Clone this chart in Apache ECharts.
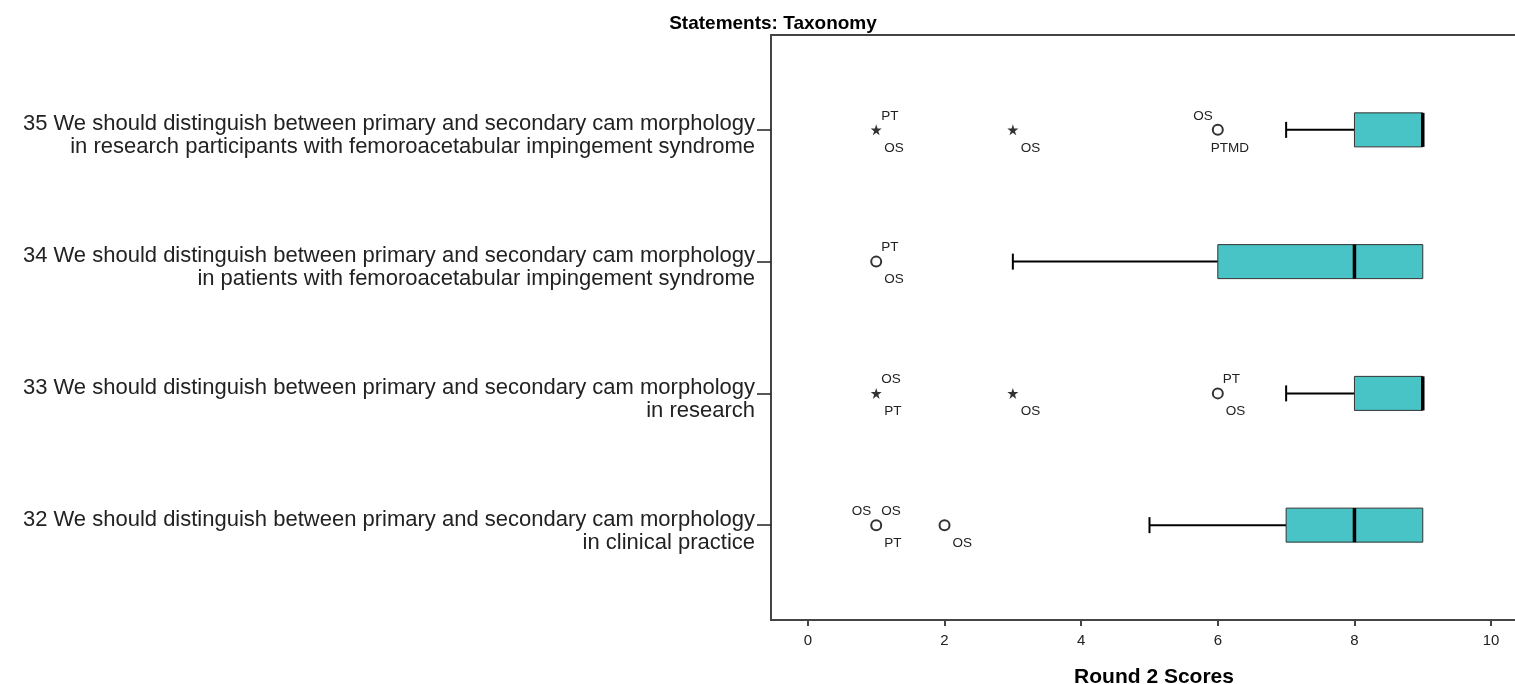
<!DOCTYPE html>
<html><head><meta charset="utf-8">
<script src="https://cdn.jsdelivr.net/npm/echarts@6/dist/echarts.min.js"></script>
<style>html,body{margin:0;padding:0;background:#fff}#c{width:1515px;height:684px}</style>
</head><body><div id="c"></div>
<script>
// Categories bottom (position 1) to top (position 4)
const categories = [
  "32 We should distinguish between primary and secondary cam morphology\nin clinical practice",
  "33 We should distinguish between primary and secondary cam morphology\nin research",
  "34 We should distinguish between primary and secondary cam morphology\nin patients with femoroacetabular impingement syndrome",
  "35 We should distinguish between primary and secondary cam morphology\nin research participants with femoroacetabular impingement syndrome"
];
const whiskerLow = [5, 7, 3, 7];
const q1 = [7, 8, 6, 8];
const median = [8, 9, 8, 9];
const q3 = [9, 9, 9, 9];
const whiskerHigh = [9, 9, 9, 9];
const xTicks = [0, 2, 4, 6, 8, 10];
const yTicks = [1, 2, 3, 4];
// outliers: [score, category index, kind]
const outliers = [
  [1, 0, "circle"], [2, 0, "circle"],
  [1, 1, "star"], [3, 1, "star"], [6, 1, "circle"],
  [1, 2, "circle"],
  [1, 3, "star"], [3, 3, "star"], [6, 3, "circle"]
];
// outlier case labels: [score, category index, text, placement]
const outlierLabels = [
  [1, 0, "OS", "ul"], [1, 0, "OS", "ur"], [1, 0, "PT", "lr"], [2, 0, "OS", "lr"],
  [1, 1, "OS", "ur"], [1, 1, "PT", "lr"], [3, 1, "OS", "lr"], [6, 1, "PT", "ur"], [6, 1, "OS", "lr"],
  [1, 2, "PT", "ur"], [1, 2, "OS", "lr"],
  [1, 3, "PT", "ur"], [1, 3, "OS", "lr"], [3, 3, "OS", "lr"], [6, 3, "OS", "ul"], [6, 3, "PTMD", "lc"]
];

const FONT = "Arial, 'Liberation Sans', sans-serif";
const starPath = 'path://M50,0 L61.8,36.2 L100,36.2 L69.1,58.6 L80.9,95.1 L50,72.7 L19.1,95.1 L30.9,58.6 L0,36.2 L38.2,36.2 Z';
const placeOffsets = { ur: [5, -14, 'left'], lr: [8, 18, 'left'], ul: [-5, -14, 'right'], lc: [-7, 18, 'left'] };
const labelDrop = 0.045; // small downward nudge of the two-line category labels

const boxData = categories.map((c, i) => [i + 1, whiskerLow[i], q1[i], median[i], q3[i], whiskerHigh[i]]);

const chart = echarts.init(document.getElementById('c'), null, { renderer: 'canvas' });
chart.setOption({
  animation: false,
  title: [
    { text: 'Statements: Taxonomy', left: 768, top: 9, textAlign: 'center',
      textStyle: { fontFamily: FONT, fontSize: 19, fontWeight: 'bold', color: '#000' } },
    { text: 'Round 2 Scores', left: 1149, top: 662, textAlign: 'center',
      textStyle: { fontFamily: FONT, fontSize: 21, fontWeight: 'bold', color: '#000' } }
  ],
  grid: { left: 771, right: 0, top: 35, bottom: 64, containLabel: false },
  xAxis: [
    { type: 'value', position: 'bottom', min: -0.54, max: 10.35,
      axisLine: { show: true, onZero: false, lineStyle: { color: '#444', width: 2 } },
      axisTick: { show: true, customValues: xTicks, length: 6, lineStyle: { color: '#444', width: 2 } },
      axisLabel: { customValues: xTicks, margin: 13, fontFamily: FONT, fontSize: 15, color: '#222' },
      splitLine: { show: false } },
    { type: 'value', position: 'top', min: -0.54, max: 10.35,
      axisLine: { show: true, onZero: false, lineStyle: { color: '#444', width: 2 } },
      axisTick: { show: false }, axisLabel: { show: false }, splitLine: { show: false } }
  ],
  yAxis: {
    type: 'value', min: 0.28, max: 4.72, position: 'left',
    axisLine: { show: true, onZero: false, lineStyle: { color: '#444', width: 2 } },
    axisTick: { show: true, customValues: yTicks, length: 14, lineStyle: { color: '#222', width: 1.5 } },
    axisLabel: { customValues: yTicks.map(v => v - labelDrop), margin: 16, align: 'right', fontFamily: FONT, fontSize: 22,
      lineHeight: 23, color: '#222',
      formatter: v => categories[Math.round(v) - 1] || '' },
    splitLine: { show: false }
  },
  series: [
    {
      type: 'custom', xAxisIndex: 0, yAxisIndex: 0, data: boxData,
      encode: { x: [1, 2, 3, 4, 5], y: 0 },
      renderItem: function (params, api) {
        const y = api.value(0);
        const pLow = api.coord([api.value(1), y]);
        const pQ1 = api.coord([api.value(2), y]);
        const pMed = api.coord([api.value(3), y]);
        const pQ3 = api.coord([api.value(4), y]);
        const pHigh = api.coord([api.value(5), y]);
        const h = 34, cap = 16;
        const cy = pQ1[1];
        const children = [];
        if (pLow[0] < pQ1[0]) {
          children.push({ type: 'line', shape: { x1: pLow[0], y1: cy, x2: pQ1[0], y2: cy }, style: { stroke: '#000', lineWidth: 2 } });
          children.push({ type: 'line', shape: { x1: pLow[0], y1: cy - cap / 2, x2: pLow[0], y2: cy + cap / 2 }, style: { stroke: '#000', lineWidth: 2 } });
        }
        if (pHigh[0] > pQ3[0]) {
          children.push({ type: 'line', shape: { x1: pQ3[0], y1: cy, x2: pHigh[0], y2: cy }, style: { stroke: '#000', lineWidth: 2 } });
          children.push({ type: 'line', shape: { x1: pHigh[0], y1: cy - cap / 2, x2: pHigh[0], y2: cy + cap / 2 }, style: { stroke: '#000', lineWidth: 2 } });
        }
        children.push({ type: 'rect', shape: { x: pQ1[0], y: cy - h / 2, width: pQ3[0] - pQ1[0], height: h },
          style: { fill: '#48C3C6', stroke: '#333', lineWidth: 1 } });
        children.push({ type: 'line', shape: { x1: pMed[0], y1: cy - h / 2, x2: pMed[0], y2: cy + h / 2 },
          style: { stroke: '#000', lineWidth: 3.5 } });
        return { type: 'group', children: children };
      }
    },
    {
      type: 'scatter', data: outliers.filter(o => o[2] === 'circle').map(o => [o[0], o[1] + 1]),
      symbol: 'circle', symbolSize: 10,
      itemStyle: { color: '#fff', borderColor: '#000', borderWidth: 2 }, z: 5
    },
    {
      type: 'scatter', data: outliers.filter(o => o[2] === 'star').map(o => [o[0], o[1] + 1]),
      symbol: starPath, symbolSize: 11,
      itemStyle: { color: '#000' }, z: 5
    },
    {
      type: 'custom', data: outlierLabels.map(o => [o[0], o[1] + 1, o[2], o[3]]),
      encode: { x: 0, y: 1 },
      renderItem: function (params, api) {
        const d = outlierLabels[params.dataIndex];
        const p = api.coord([d[0], d[1] + 1]);
        const off = placeOffsets[d[3]];
        return { type: 'text', x: p[0] + off[0], y: p[1] + off[1],
          style: { text: d[2], textAlign: off[2], textVerticalAlign: 'middle', fill: '#222',
            font: '13.5px ' + FONT } };
      }, z: 6
    }
  ]
});
</script></body></html>
